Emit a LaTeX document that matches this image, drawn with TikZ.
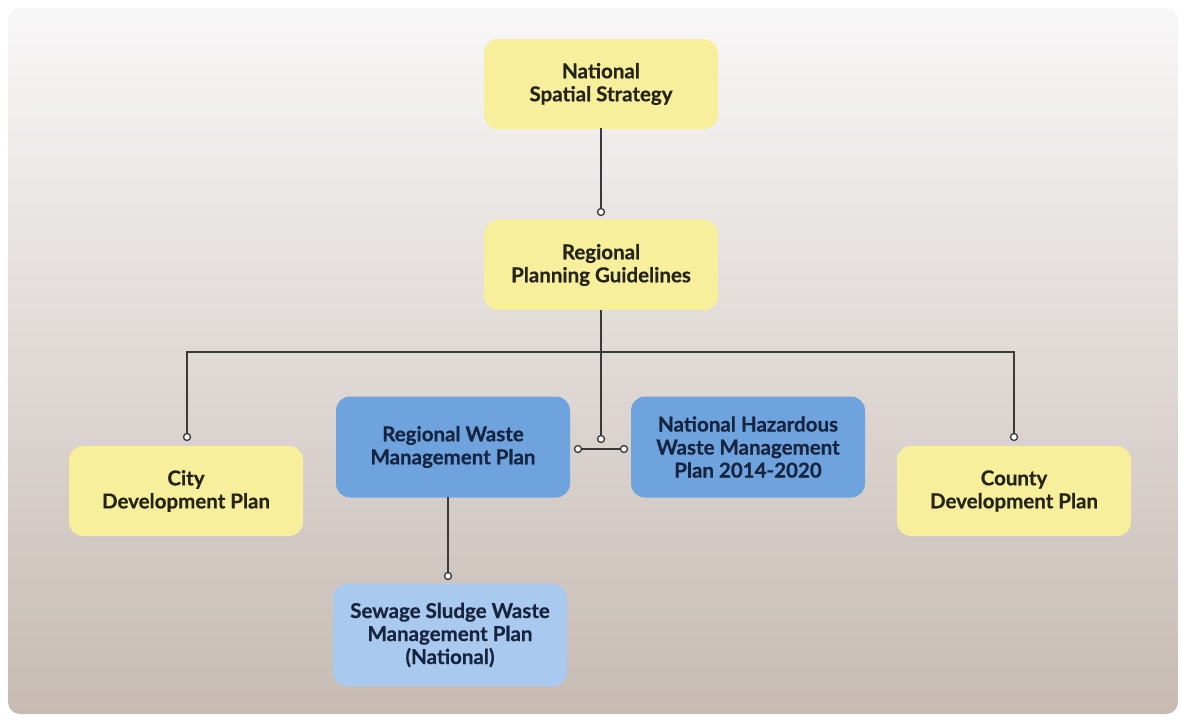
\documentclass[tikz,border=0pt]{standalone}
\usepackage{fontspec}
\setmainfont{Lato}
\newfontfamily\boxfont{Lato}[BoldFeatures={FakeBold=0.6}]
\usetikzlibrary{positioning}
\definecolor{boxyellow}{HTML}{F8EF9C}
\definecolor{boxblue}{HTML}{6FA3DE}
\definecolor{boxlight}{HTML}{A9C9EE}
\definecolor{txtdark}{HTML}{24241A}
\definecolor{txtnavy}{HTML}{17243F}
\definecolor{linecol}{HTML}{3A3838}
\definecolor{bgtop}{HTML}{F8F7F7}
\definecolor{bgmid}{HTML}{E6E0DD}
\definecolor{bgbot}{HTML}{C7BBB4}
\tikzset{
  box/.style={rounded corners=14pt, minimum width=234pt, align=center,
    font=\boxfont\fontsize{20.5}{23}\selectfont\bfseries, inner sep=0pt},
  ybox/.style={box, fill=boxyellow, text=txtdark, minimum height=90pt},
  bbox/.style={box, fill=boxblue, text=txtnavy, minimum height=101pt},
  lbox/.style={box, fill=boxlight, text=txtnavy, minimum height=102pt},
  dot/.style={circle, draw=linecol, fill=white, line width=1.3pt, minimum size=7pt, inner sep=0pt},
  conn/.style={draw=linecol, line width=1.8pt}
}
\begin{document}
\begin{tikzpicture}[x=1pt,y=-1pt]
\useasboundingbox (0,0) rectangle (1182,718);
\fill[white] (0,0) rectangle (1182,718);
\shade[top color=bgtop, middle color=bgmid, bottom color=bgbot, rounded corners=12pt] (8,8) rectangle (1178,714);

\node[ybox] (nss) at (601,84) {National\\Spatial Strategy};
\node[ybox] (rpg) at (601,265) {Regional\\Planning Guidelines};
\node[ybox] (city) at (186,491) {City\\Development Plan};
\node[ybox] (county) at (1014,491) {County\\Development Plan};
\node[bbox] (rwmp) at (453,447) {Regional Waste\\Management Plan};
\node[bbox] (nhwmp) at (748,447) {National Hazardous\\Waste Management\\Plan 2014-2020};
\node[lbox] (sswmp) at (450,635) {Sewage Sludge Waste\\Management Plan\\(National)};

\coordinate (busL) at (187,352);
\coordinate (busR) at (1014,352);
\coordinate (nsslow) at (601,128);
\coordinate (rpglow) at (601,310);
\coordinate (rwmplow) at (448,497);

\node[dot] (d1) at (601,212) {};
\node[dot] (dcity) at (187,437) {};
\node[dot] (dcounty) at (1014,437) {};
\node[dot] (dmid) at (601,439) {};
\node[dot] (dl) at (578,449) {};
\node[dot] (dr) at (624,449) {};
\node[dot] (dss) at (448,576) {};

\draw[conn] (nsslow) -- (d1);
\draw[conn] (rpglow) -- (dmid);
\draw[conn] (dcity) -- (busL) -- (busR) -- (dcounty);
\draw[conn] (dl) -- (dr);
\draw[conn] (rwmplow) -- (dss);
\end{tikzpicture}
\end{document}
